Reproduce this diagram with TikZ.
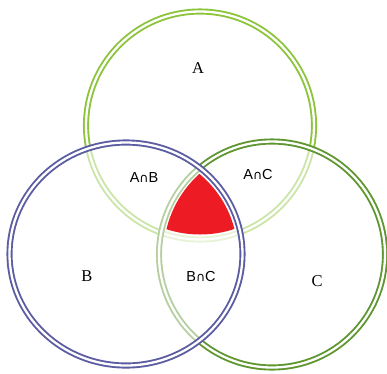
\documentclass[tikz,border=0pt]{standalone}
\usepackage{fontspec}
\setmainfont{Liberation Serif}
\newfontfamily\labsans{Liberation Sans}
\newfontfamily\capfont{DejaVu Sans}
\newcommand{\mycap}{{\capfont\fontsize{12.5}{12.5}\selectfont ∩}}
\definecolor{cA}{RGB}{140,196,60}
\definecolor{cB}{RGB}{92,92,162}
\definecolor{cC}{RGB}{94,150,48}
\definecolor{cRed}{RGB}{237,28,36}
\begin{document}
\begin{tikzpicture}[x=1pt,y=-1pt,
  ring/.style={line width=1.9pt,double=white,double distance=2.3pt,fill=white,fill opacity=0.55,draw opacity=1},
  setlab/.style={font=\fontsize{16.5}{16.5}\selectfont},
  cutlab/.style={font=\labsans\fontsize{14.5}{14.5}\selectfont}]
\useasboundingbox (0,0) rectangle (387,373);
\coordinate (ca) at (200,125.5);
\coordinate (cb) at (126,254);
\coordinate (cc) at (272,254.5);
\draw[ring,draw=cA] (ca) circle [radius=114pt];
\draw[ring,draw=cC] (cc) circle [radius=113pt];
\draw[ring,draw=cB] (cb) ellipse [x radius=116.5pt,y radius=111.5pt];
\begin{scope}
  \clip (ca) circle [radius=109pt];
  \clip (cb) ellipse [x radius=111.5pt,y radius=106.5pt];
  \fill[cRed] (cc) circle [radius=108.5pt];
\end{scope}
\node[setlab] (la) at (198,68) {A};
\node[setlab] (lb) at (87,276) {B};
\node[setlab] (lc) at (317,281) {C};
\node[cutlab] (lab) at (144,178) {A\mycap B};
\node[cutlab] (lac) at (258,175) {A\mycap C};
\node[cutlab] (lbc) at (201,276) {B\mycap C};
\end{tikzpicture}
\end{document}
